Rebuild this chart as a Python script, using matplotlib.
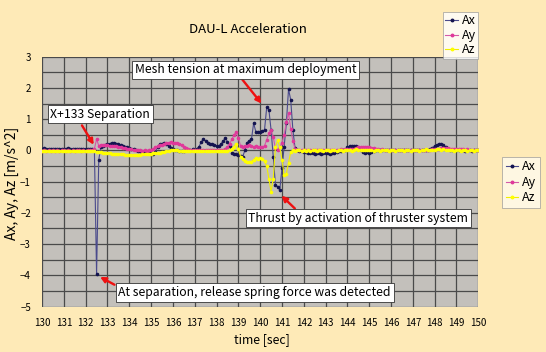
import numpy as np
import matplotlib
matplotlib.use("Agg")
import matplotlib.pyplot as plt
from matplotlib.lines import Line2D

plt.rcParams['font.family'] = ['Noto Sans CJK JP', 'DejaVu Sans']

# time axis: samples every 0.1 s from 130 s to 150 s
t_start, t_step, n_samples = 130.0, 0.1, 201
time = t_start + t_step * np.arange(n_samples)

ax_values = [
    0.05, 0.08, 0.04, 0.06, 0.05, 0.03, 0.06, 0.05, 0.04, 0.06,
    0.05, 0.04, 0.07, 0.05, 0.03, 0.05, 0.06, 0.04, 0.05, 0.06,
    0.05, 0.04, 0.06, 0.03, 0.02, -3.95, -0.3, 0.12, 0.15, 0.18,
    0.20, 0.22, 0.23, 0.24, 0.22, 0.20, 0.17, 0.14, 0.12, 0.10,
    0.08, 0.05, 0.03, 0.01, -0.02, -0.03, -0.04, -0.05, -0.06, -0.08,
    -0.10, -0.12, -0.05, 0.12, 0.20, 0.22, 0.23, 0.21, 0.15, 0.08,
    0.05, 0.02, 0.00, -0.02, -0.03, -0.02, 0.00, 0.02, 0.01, 0.03,
    0.02, 0.05, 0.12, 0.28, 0.35, 0.30, 0.25, 0.22, 0.20, 0.18,
    0.15, 0.14, 0.20, 0.30, 0.39, 0.28, 0.15, -0.08, -0.10, -0.12,
    -0.14, -0.18, -0.20, 0.00, 0.25, 0.30, 0.35, 0.87, 0.60, 0.58,
    0.60, 0.62, 0.66, 1.38, 1.30, 0.65, -0.20, -1.10, -1.16, -1.26,
    -0.57, 0.12, 0.87, 1.96, 1.62, 0.65, 0.07, 0.00, -0.02, -0.03,
    -0.05, -0.06, -0.08, -0.09, -0.08, -0.10, -0.09, -0.08, -0.10, -0.09,
    -0.08, -0.09, -0.10, -0.08, -0.07, -0.05, -0.03, -0.01, 0.00, 0.02,
    0.10, 0.14, 0.15, 0.13, 0.14, 0.10, 0.02, -0.05, -0.07, -0.06,
    -0.07, -0.05, -0.03, 0.00, 0.01, 0.00, 0.02, 0.01, 0.00, 0.01,
    0.00, 0.01, 0.02, 0.00, 0.01, 0.00, 0.02, 0.01, 0.00, 0.02,
    0.01, 0.00, 0.02, 0.01, 0.00, 0.01, 0.02, 0.00, 0.03, 0.08,
    0.15, 0.18, 0.20, 0.19, 0.18, 0.12, 0.05, 0.02, 0.01, 0.00,
    0.01, 0.00, 0.02, 0.00, -0.01, 0.01, 0.00, -0.01, 0.00, 0.01,
    0.00,
]

ay_values = [
    -0.02, 0.00, -0.01, 0.01, -0.02, 0.00, -0.01, 0.00, -0.02, 0.01,
    0.00, -0.01, 0.01, -0.02, 0.00, -0.01, 0.00, 0.01, -0.01, 0.00,
    -0.01, 0.00, 0.01, 0.00, 0.05, 0.36, 0.15, 0.17, 0.18, 0.17,
    0.16, 0.15, 0.15, 0.14, 0.13, 0.12, 0.10, 0.08, 0.07, 0.05,
    0.04, 0.03, 0.02, 0.01, 0.00, 0.00, -0.01, 0.00, -0.01, 0.00,
    0.02, 0.05, 0.10, 0.14, 0.16, 0.18, 0.20, 0.23, 0.25, 0.26,
    0.25, 0.24, 0.23, 0.22, 0.18, 0.12, 0.07, 0.04, 0.02, 0.01,
    0.00, 0.01, 0.00, 0.02, 0.01, 0.00, 0.02, 0.01, 0.02, 0.00,
    0.01, 0.02, 0.00, 0.02, 0.05, 0.10, 0.22, 0.35, 0.50, 0.58,
    0.40, 0.15, 0.12, 0.14, 0.15, 0.18, 0.15, 0.12, 0.13, 0.12,
    0.12, 0.10, 0.15, 0.34, 0.55, 0.66, 0.42, 0.07, 0.02, 0.10,
    0.25, 0.50, 0.90, 1.19, 0.70, 0.30, 0.05, 0.02, 0.00, 0.02,
    0.01, 0.02, 0.00, 0.01, 0.02, 0.00, 0.01, 0.02, 0.01, 0.00,
    0.01, 0.00, 0.02, 0.01, 0.00, 0.02, 0.01, 0.03, 0.02, 0.04,
    0.03, 0.05, 0.04, 0.06, 0.08, 0.10, 0.11, 0.12, 0.10, 0.11,
    0.10, 0.09, 0.08, 0.05, 0.04, 0.02, 0.03, 0.01, 0.02, 0.00,
    0.01, 0.02, 0.00, 0.01, 0.02, 0.00, 0.01, 0.02, 0.01, 0.00,
    0.02, 0.01, 0.00, 0.02, 0.01, 0.00, 0.02, 0.01, 0.02, 0.03,
    0.04, 0.05, 0.06, 0.07, 0.08, 0.07, 0.08, 0.06, 0.05, 0.05,
    0.04, 0.05, 0.03, 0.04, 0.02, 0.03, 0.02, 0.01, 0.02, 0.01,
    0.01,
]

az_values = [
    -0.02, -0.03, -0.01, -0.02, -0.03, -0.02, -0.01, -0.03, -0.02, -0.02,
    -0.03, -0.02, -0.01, -0.02, -0.03, -0.02, -0.02, -0.01, -0.03, -0.02,
    -0.02, -0.01, -0.03, -0.02, -0.02, -0.05, -0.04, -0.06, -0.08, -0.07,
    -0.08, -0.09, -0.10, -0.10, -0.11, -0.12, -0.13, -0.12, -0.14, -0.14,
    -0.15, -0.16, -0.15, -0.16, -0.15, -0.14, -0.13, -0.12, -0.12, -0.10,
    -0.10, -0.09, -0.08, -0.08, -0.07, -0.06, -0.05, -0.03, -0.02, 0.00,
    0.00, 0.01, 0.00, -0.01, -0.02, -0.01, -0.02, -0.03, -0.02, -0.03,
    -0.02, -0.03, -0.02, -0.01, -0.02, -0.03, -0.02, -0.01, -0.02, -0.03,
    -0.02, -0.01, -0.02, -0.03, -0.01, -0.02, 0.00, 0.05, 0.12, 0.22,
    0.05, -0.20, -0.28, -0.35, -0.37, -0.37, -0.36, -0.30, -0.24, -0.26,
    -0.24, -0.26, -0.35, -0.50, -0.90, -1.32, -0.90, 0.10, 0.32, 0.10,
    -0.30, -0.80, -0.75, -0.40, -0.05, 0.00, -0.01, 0.00, 0.01, -0.01,
    0.00, -0.02, 0.01, -0.01, 0.00, 0.02, -0.01, 0.00, 0.01, -0.02,
    0.00, 0.01, -0.01, 0.02, 0.00, -0.02, 0.01, 0.00, -0.01, 0.01,
    0.02, 0.00, -0.01, 0.01, 0.03, 0.02, 0.01, 0.00, 0.02, 0.01,
    0.00, 0.02, -0.01, 0.01, 0.00, -0.02, 0.01, 0.00, 0.02, -0.01,
    0.00, 0.01, -0.02, 0.00, 0.02, 0.00, -0.01, 0.01, 0.00, -0.02,
    0.01, 0.00, 0.02, -0.01, 0.00, 0.01, 0.03, 0.02, 0.00, 0.01,
    0.02, 0.03, 0.04, 0.02, 0.03, 0.01, 0.02, 0.00, 0.01, -0.01,
    0.00, 0.01, -0.01, 0.00, 0.02, -0.01, 0.00, 0.01, -0.02, 0.00,
    0.00,
]

series_names = ["Ax", "Ay", "Az"]
x_ticks = list(range(130, 151))
y_ticks = list(range(-5, 4))

annotations = [
    # text, text centre (t, v), arrow tail (t, v), arrow tip (t, v)
    ("Mesh tension at maximum deployment", (139.33, 2.58), (139.18, 2.27), (140.06, 1.50)),
    ("X+133 Separation", (132.67, 1.16), (131.83, 0.80), (132.37, 0.18)),
    ("Thrust by activation of thruster system", (144.50, -2.17), (141.59, -1.86), (140.98, -1.45)),
    ("At separation, release spring force was detected", (139.75, -4.55), (133.32, -4.30), (132.66, -4.05)),
]

bg = "#feeab7"
plot_bg = "#c3c0bb"
grid_c = "#4a4a4a"
line_cols = ["#4a4a8c", "#d45aa8", "#f0f000"]
mark_cols = ["#141450", "#e0389a", "#ffff00"]

fig = plt.figure(figsize=(5.46, 3.52), dpi=100, facecolor=bg)
ax = fig.add_axes([0.077, 0.129, 0.799, 0.710])
ax.set_facecolor(plot_bg)

for vals, name, lc, mc in zip([ax_values, ay_values, az_values], series_names, line_cols, mark_cols):
    ax.plot(time, vals, color=lc, lw=0.8, marker="o", ms=1.6,
            mfc=mc, mec=mc, label=name, zorder=3)

ax.set_xlim(130, 150)
ax.set_ylim(-5, 3)
ax.set_xticks(x_ticks)
ax.set_yticks(y_ticks)
ax.set_yticks(np.arange(-5, 3.01, 0.5), minor=True)
ax.grid(True, which="major", color=grid_c, lw=0.9)
ax.grid(True, which="minor", axis="y", color=grid_c, lw=0.9)
ax.tick_params(which="both", length=0, labelsize=7, pad=8)
ax.set_xticklabels([str(v) for v in x_ticks])
for s in ax.spines.values():
    s.set_visible(False)

fig.text(0.454, 0.915, "DAU-L Acceleration", ha="center", va="center", fontsize=9.5)
fig.text(0.022, 0.478, "Ax, Ay, Az [m/s^2]", rotation=90, ha="center", va="center", fontsize=10)
fig.text(0.479, 0.036, "time [sec]", ha="center", va="center", fontsize=8.8)

for text, pos, tail, tip in annotations:
    ax.text(pos[0], pos[1], text, ha="center", va="center", fontsize=8.8, zorder=6,
            bbox=dict(boxstyle="square,pad=0.22", fc="white", ec="#333333", lw=0.6))
    ax.annotate("", xy=tip, xytext=tail, zorder=5,
                arrowprops=dict(arrowstyle="-|>", color="#ee1111", lw=1.7,
                                mutation_scale=8, shrinkA=0, shrinkB=0))

handles = [Line2D([0], [0], color=lc, lw=0.8, marker="o", ms=1.8, mfc=mc, mec=mc)
           for lc, mc in zip(line_cols, mark_cols)]
leg1 = fig.legend(handles, series_names, loc="upper left", bbox_to_anchor=(0.811, 0.966),
                  fontsize=9, frameon=True, fancybox=False, handlelength=1.0,
                  handletextpad=0.3, borderpad=0.2, labelspacing=0.12, borderaxespad=0)
leg1.get_frame().set_edgecolor("#999999")
leg1.get_frame().set_facecolor("white")
leg1.get_frame().set_linewidth(0.6)
leg2 = fig.legend(handles, series_names, loc="upper left", bbox_to_anchor=(0.919, 0.555),
                  fontsize=9, frameon=True, fancybox=False, handlelength=1.0,
                  handletextpad=0.3, borderpad=0.3, labelspacing=0.2, borderaxespad=0)
leg2.get_frame().set_edgecolor("#999999")
leg2.get_frame().set_facecolor("#fffbee")
leg2.get_frame().set_linewidth(0.6)

fig.savefig("out.png", dpi=100, facecolor=bg)
